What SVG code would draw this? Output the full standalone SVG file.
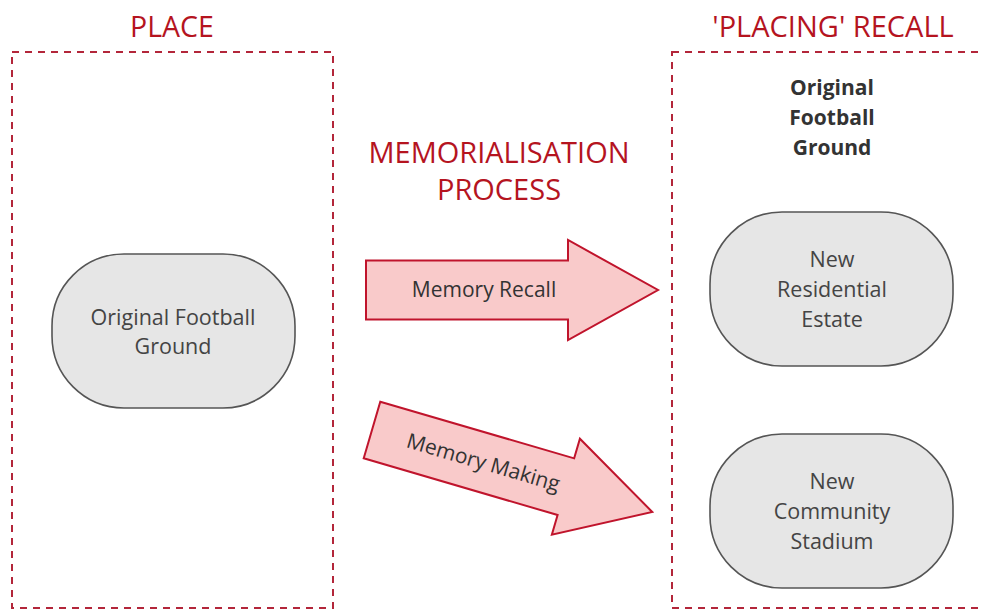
<svg xmlns="http://www.w3.org/2000/svg" width="982" height="610" viewBox="0 0 982 610">
<defs>
<style>
.frame{fill:none;stroke:#b3263a;stroke-width:2;stroke-dasharray:7 6}
.title{font-family:"Open Sans","Noto Sans","Liberation Sans",sans-serif;fill:#b5141f;text-anchor:middle}
.node{fill:#e6e6e6;stroke:#555;stroke-width:1.6}
.ntext{font-family:"Open Sans","Noto Sans","Liberation Sans",sans-serif;font-size:21.5px;fill:#444;text-anchor:middle}
.bold{font-family:"Open Sans","Noto Sans","Liberation Sans",sans-serif;font-size:21px;font-weight:bold;fill:#333;text-anchor:middle}
.arrow{fill:#f9caca;stroke:#c0142c;stroke-width:2;stroke-linejoin:miter}
.atext{font-family:"Open Sans","Noto Sans","Liberation Sans",sans-serif;font-size:21px;fill:#333;text-anchor:middle}
</style>
<path id="arr" d="M0,-29.5 L202,-29.5 L202,-50 L292,0 L202,50 L202,29.5 L0,29.5 Z"/>
</defs>
<rect width="982" height="610" fill="#fff"/>

<g id="frame-place">
<rect class="frame" x="12" y="52" width="321" height="556"/>
<text class="title" x="172" y="37" font-size="28.5">PLACE</text>
</g>
<g id="frame-recall">
<rect class="frame" x="672" y="52" width="330" height="556"/>
<text class="title" x="833" y="37" font-size="29">'PLACING' RECALL</text>
<text class="bold" x="832" y="95">Original</text>
<text class="bold" x="832" y="125">Football</text>
<text class="bold" x="832" y="155">Ground</text>
</g>
<g id="process-label">
<text class="title" x="499" y="163" font-size="29">MEMORIALISATION</text>
<text class="title" x="499" y="200" font-size="29">PROCESS</text>
</g>

<g id="node-original">
<rect class="node" x="52" y="254" width="243" height="154" rx="72" ry="72"/>
<text class="ntext" x="173" y="325">Original Football</text>
<text class="ntext" x="173" y="354">Ground</text>
</g>
<g id="node-estate">
<rect class="node" x="710" y="212" width="243" height="154" rx="72" ry="72"/>
<text class="ntext" x="832" y="267">New</text>
<text class="ntext" x="832" y="297">Residential</text>
<text class="ntext" x="832" y="327">Estate</text>
</g>
<g id="node-stadium">
<rect class="node" x="710" y="434" width="243" height="154" rx="72" ry="72"/>
<text class="ntext" x="832" y="489">New</text>
<text class="ntext" x="832" y="519">Community</text>
<text class="ntext" x="832" y="549">Stadium</text>
</g>

<g id="connectors">
<g id="arrow-recall" transform="translate(366,290)">
<use href="#arr" class="arrow"/>
<text class="atext" x="118" y="7">Memory Recall</text>
</g>
<g id="arrow-making" transform="translate(372,430) rotate(16.3)">
<use href="#arr" class="arrow"/>
<text class="atext" x="116" y="7">Memory Making</text>
</g>
</g>
</svg>
